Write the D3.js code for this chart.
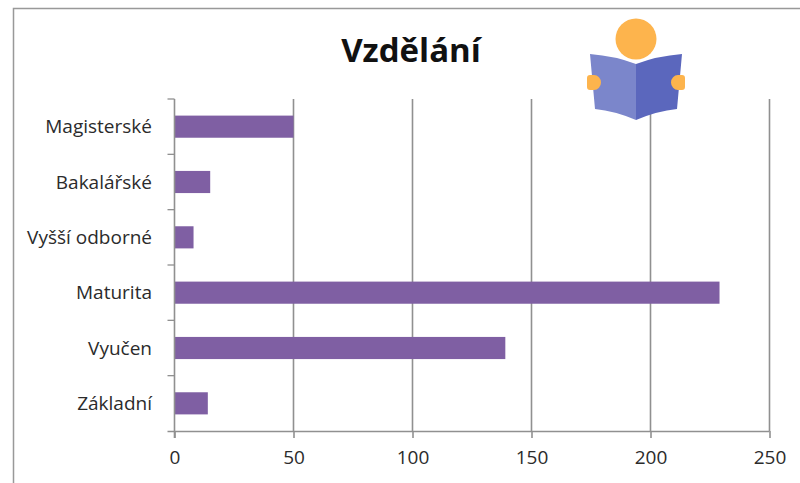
<!DOCTYPE html>
<html><head><meta charset="utf-8">
<style>html,body{margin:0;padding:0;background:#fff}svg{display:block}text{font-family:"Open Sans",Lato,sans-serif;fill:#2b2b2b}</style>
<script src="https://cdn.jsdelivr.net/npm/d3@7/dist/d3.min.js"></script></head><body>
<script>
const categories=["Magisterské","Bakalářské","Vyšší odborné","Maturita","Vyučen","Základní"];
const values=[50,15,8,229,139,14];
const xTicks=[0,50,100,150,200,250];
const title="Vzdělání";
const W=800,H=483,grey="#909090";
const svg=d3.select("body").append("svg").attr("width",W).attr("height",H);
const x=d3.scaleLinear().domain([0,250]).range([174.5,769.5]);
const y=d3.scaleBand().domain(categories).range([99,431]).paddingInner(0.6).paddingOuter(0.3);
// frame
svg.append("path").attr("d",`M13.5,${H}V8.5H${W}`).attr("fill","none").attr("stroke","#999").attr("stroke-width",1.5);
// title
svg.append("text").attr("x",411).attr("y",62).attr("text-anchor","middle").attr("font-size",33).attr("font-weight",700).style("font-family","Open Sans").style("fill","#111").text(title);
// gridlines
svg.append("g").selectAll("line").data(xTicks.slice(1)).join("line")
 .attr("x1",d=>x(d)).attr("x2",d=>x(d)).attr("y1",99).attr("y2",431).attr("stroke",grey).attr("stroke-width",1.6);
// bars
svg.append("g").selectAll("rect").data(values).join("rect")
 .attr("x",x(0)).attr("y",(d,i)=>y(categories[i])).attr("width",d=>x(d)-x(0)).attr("height",y.bandwidth()).attr("fill","#7f5fa3");
// x axis
const ax=d3.axisBottom(x).tickValues(xTicks).tickSize(7).tickPadding(13);
const gx=svg.append("g").attr("transform","translate(0,431)").call(ax);
gx.selectAll("path,line").attr("stroke",grey).attr("stroke-width",1.6);
gx.selectAll("text").attr("font-size",19).attr("font-family","Open Sans");
gx.select(".domain").attr("d",`M${x(0)-7},0.5H${x(250)}`);
// y axis with ticks between categories
const step=y.step();
const gy=svg.append("g");
gy.append("line").attr("x1",x(0)).attr("x2",x(0)).attr("y1",99).attr("y2",438).attr("stroke",grey).attr("stroke-width",1.6);
gy.selectAll(".t").data(categories.slice(0)).join("line").attr("class","t")
 .attr("x1",x(0)-7).attr("x2",x(0)).attr("y1",d=>y(d)+y.bandwidth()/2-step/2).attr("y2",d=>y(d)+y.bandwidth()/2-step/2).attr("stroke",grey).attr("stroke-width",1.3);
gy.selectAll("text").data(categories).join("text").attr("x",152).attr("y",d=>y(d)+y.bandwidth()/2).attr("dy","0.35em").attr("text-anchor","end").attr("font-size",19).text(d=>d);
// icon
const ic=svg.append("g");
ic.append("path").attr("d","M590,54Q615,56 636,64V120Q615,111 595,109Z").attr("fill","#7b86cb");
ic.append("path").attr("d","M636,64Q657,56 682,54L677,109Q657,111 636,120Z").attr("fill","#5b67bd");
ic.append("circle").attr("cx",636).attr("cy",39).attr("r",20.5).attr("fill","#fdb44d");
ic.append("path").attr("d","M590,75H594A7,7.5 0 0 1 594,90H590Q587,90 587,87V78Q587,75 590,75Z").attr("fill","#fdb44d");
ic.append("path").attr("d","M682,75H678A7,7.5 0 0 0 678,90H682Q685,90 685,87V78Q685,75 682,75Z").attr("fill","#fdb44d");
</script></body></html>
